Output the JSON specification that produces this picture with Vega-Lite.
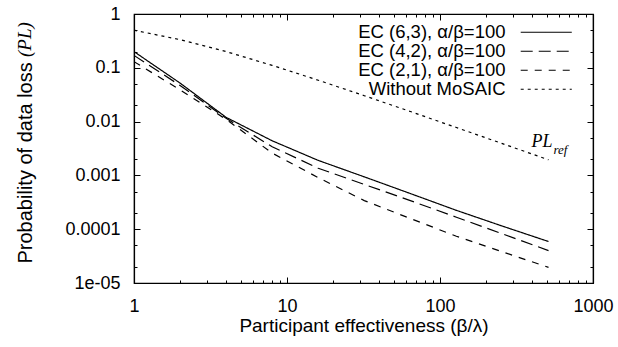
{
  "$schema": "https://vega.github.io/schema/vega-lite/v6.json",
  "width": 459,
  "height": 269,
  "autosize": {"type": "none"},
  "padding": {"left": 134, "top": 14, "right": 25, "bottom": 64},
  "background": "white",
  "config": {
    "font": "Liberation Sans",
    "view": {"stroke": "black", "strokeWidth": 1.2},
    "axis": {
      "domainColor": "black",
      "domainWidth": 1.2,
      "tickColor": "black",
      "tickWidth": 1,
      "labelColor": "black",
      "titleColor": "black",
      "labelFont": "Liberation Sans",
      "titleFont": "Liberation Sans",
      "labelFontSize": 18,
      "titleFontSize": 20,
      "titleFontWeight": "normal",
      "grid": false
    }
  },
  "datasets": {
    "curves": [
      {"series": "EC (6,3), α/β=100", "x": 1, "y": 0.2},
      {"series": "EC (6,3), α/β=100", "x": 2, "y": 0.052},
      {"series": "EC (6,3), α/β=100", "x": 4, "y": 0.012},
      {"series": "EC (6,3), α/β=100", "x": 8, "y": 0.0044},
      {"series": "EC (6,3), α/β=100", "x": 16, "y": 0.0019},
      {"series": "EC (6,3), α/β=100", "x": 32, "y": 0.00094},
      {"series": "EC (6,3), α/β=100", "x": 64, "y": 0.00046},
      {"series": "EC (6,3), α/β=100", "x": 128, "y": 0.000224},
      {"series": "EC (6,3), α/β=100", "x": 256, "y": 0.000114},
      {"series": "EC (6,3), α/β=100", "x": 512, "y": 0.000059},
      {"series": "EC (4,2), α/β=100", "x": 1, "y": 0.17},
      {"series": "EC (4,2), α/β=100", "x": 2, "y": 0.047},
      {"series": "EC (4,2), α/β=100", "x": 4, "y": 0.0115},
      {"series": "EC (4,2), α/β=100", "x": 8, "y": 0.0034},
      {"series": "EC (4,2), α/β=100", "x": 16, "y": 0.00136},
      {"series": "EC (4,2), α/β=100", "x": 32, "y": 0.00068},
      {"series": "EC (4,2), α/β=100", "x": 64, "y": 0.00034},
      {"series": "EC (4,2), α/β=100", "x": 128, "y": 0.000167},
      {"series": "EC (4,2), α/β=100", "x": 256, "y": 0.000082},
      {"series": "EC (4,2), α/β=100", "x": 512, "y": 0.00004},
      {"series": "EC (2,1), α/β=100", "x": 1, "y": 0.13},
      {"series": "EC (2,1), α/β=100", "x": 2, "y": 0.039},
      {"series": "EC (2,1), α/β=100", "x": 4, "y": 0.011},
      {"series": "EC (2,1), α/β=100", "x": 8, "y": 0.0026},
      {"series": "EC (2,1), α/β=100", "x": 16, "y": 0.00091},
      {"series": "EC (2,1), α/β=100", "x": 32, "y": 0.00034},
      {"series": "EC (2,1), α/β=100", "x": 64, "y": 0.000158},
      {"series": "EC (2,1), α/β=100", "x": 128, "y": 0.000074},
      {"series": "EC (2,1), α/β=100", "x": 256, "y": 0.000038},
      {"series": "EC (2,1), α/β=100", "x": 512, "y": 0.0000195},
      {"series": "Without MoSAIC", "x": 1, "y": 0.5},
      {"series": "Without MoSAIC", "x": 2, "y": 0.333},
      {"series": "Without MoSAIC", "x": 4, "y": 0.2},
      {"series": "Without MoSAIC", "x": 8, "y": 0.111},
      {"series": "Without MoSAIC", "x": 16, "y": 0.0588},
      {"series": "Without MoSAIC", "x": 32, "y": 0.0303},
      {"series": "Without MoSAIC", "x": 64, "y": 0.0154},
      {"series": "Without MoSAIC", "x": 128, "y": 0.00775},
      {"series": "Without MoSAIC", "x": 256, "y": 0.00389},
      {"series": "Without MoSAIC", "x": 512, "y": 0.00195}
    ],
    "notes": [
      {"t": "PL", "x": 397, "y": 0.00333, "size": 18},
      {"t": "ref", "x": 552, "y": 0.0025, "size": 13}
    ],
    "ytitle": [
      {"t": "(PL)", "x": 0.195, "y": 0.159}
    ]
  },
  "layer": [
    {
      "data": {"name": "curves"},
      "mark": {"type": "line", "color": "black", "strokeWidth": 1.2, "clip": true},
      "encoding": {
        "x": {
          "field": "x", "type": "quantitative",
          "scale": {"type": "log", "domain": [1, 1000]},
          "axis": {
            "orient": "bottom",
            "values": [1,2,3,4,5,6,7,8,9,10,20,30,40,50,60,70,80,90,100,200,300,400,500,600,700,800,900,1000],
            "labelExpr": "indexof([1,10,100,1000], datum.value) >= 0 ? format(datum.value, 'd') : ''",
            "tickSize": {"condition": {"test": "indexof([1,10,100,1000], datum.value) >= 0", "value": -6}, "value": -3},
            "labelPadding": 20,
            "labelFlush": false,
            "labelOverlap": false,
            "title": "Participant effectiveness (β/λ)",
            "titleFontSize": 19,
            "titlePadding": -2
          }
        },
        "y": {
          "field": "y", "type": "quantitative",
          "scale": {"type": "log", "domain": [0.00001, 1]},
          "axis": {
            "orient": "left",
            "values": [0.00001,0.00002,0.00005,0.0001,0.0002,0.0005,0.001,0.002,0.005,0.01,0.02,0.05,0.1,0.2,0.5,1],
            "labelExpr": "datum.value == 0.00001 ? '1e-05' : (indexof([1,0.1,0.01,0.001,0.0001], datum.value) >= 0 ? toString(datum.value) : '')",
            "tickSize": {"condition": {"test": "indexof([1,0.1,0.01,0.001,0.0001,0.00001], datum.value) >= 0", "value": -6}, "value": -3},
            "labelPadding": 20,
            "labelFlush": false,
            "labelOverlap": false,
            "title": "Probability of data loss",
            "titleFontSize": 20,
            "titleAngle": 270,
            "titleAlign": "left",
            "titleBaseline": "middle",
            "titleX": -109,
            "titleY": 249
          }
        },
        "strokeDash": {
          "field": "series", "type": "nominal",
          "scale": {
            "domain": ["EC (6,3), α/β=100", "EC (4,2), α/β=100", "EC (2,1), α/β=100", "Without MoSAIC"],
            "range": [[1, 0], [12, 6], [7, 7], [3, 4]]
          },
          "legend": {
            "orient": "none",
            "legendX": 403,
            "legendY": 9,
            "title": null,
            "padding": 0,
            "symbolType": "M-4,0H4",
            "symbolSize": 163,
            "symbolStrokeColor": "black",
            "symbolFillColor": "transparent",
            "symbolStrokeWidth": 1.2,
            "labelFont": "Liberation Sans",
            "labelFontSize": 18.5,
            "labelColor": "black",
            "labelAlign": "right",
            "labelOffset": -50,
            "labelLimit": 400,
            "rowPadding": -3
          }
        }
      }
    },
    {
      "data": {"name": "curves"},
      "mark": {"type": "point", "opacity": 0},
      "encoding": {
        "x": {
          "field": "x", "type": "quantitative",
          "scale": {"type": "log", "domain": [1, 1000]},
          "axis": {
            "orient": "top",
            "values": [1,2,3,4,5,6,7,8,9,10,20,30,40,50,60,70,80,90,100,200,300,400,500,600,700,800,900,1000],
            "labels": false,
            "title": null,
            "tickSize": {"condition": {"test": "indexof([1,10,100,1000], datum.value) >= 0", "value": -6}, "value": -3}
          }
        },
        "y": {
          "field": "y", "type": "quantitative",
          "scale": {"type": "log", "domain": [0.00001, 1]},
          "axis": {
            "orient": "right",
            "values": [0.00001,0.00002,0.00005,0.0001,0.0002,0.0005,0.001,0.002,0.005,0.01,0.02,0.05,0.1,0.2,0.5,1],
            "labels": false,
            "title": null,
            "tickSize": {"condition": {"test": "indexof([1,0.1,0.01,0.001,0.0001,0.00001], datum.value) >= 0", "value": -6}, "value": -3}
          }
        }
      }
    },
    {
      "data": {"name": "notes"},
      "mark": {"type": "text", "font": "Liberation Serif", "fontStyle": "italic", "align": "left", "baseline": "alphabetic", "color": "black"},
      "encoding": {
        "x": {"field": "x", "type": "quantitative", "scale": {"type": "log", "domain": [1, 1000]}, "axis": null},
        "y": {"field": "y", "type": "quantitative", "scale": {"type": "log", "domain": [0.00001, 1]}, "axis": null},
        "text": {"field": "t"},
        "size": {"field": "size", "type": "quantitative", "scale": null}
      }
    },
    {
      "data": {"name": "ytitle"},
      "mark": {"type": "text", "font": "Liberation Serif", "fontStyle": "italic", "fontSize": 19, "angle": 270, "align": "left", "baseline": "middle", "color": "black"},
      "encoding": {
        "x": {"field": "x", "type": "quantitative", "scale": {"type": "log", "domain": [1, 1000]}, "axis": null},
        "y": {"field": "y", "type": "quantitative", "scale": {"type": "log", "domain": [0.00001, 1]}, "axis": null},
        "text": {"field": "t"}
      }
    }
  ],
  "resolve": {"axis": {"x": "independent", "y": "independent"}}
}
